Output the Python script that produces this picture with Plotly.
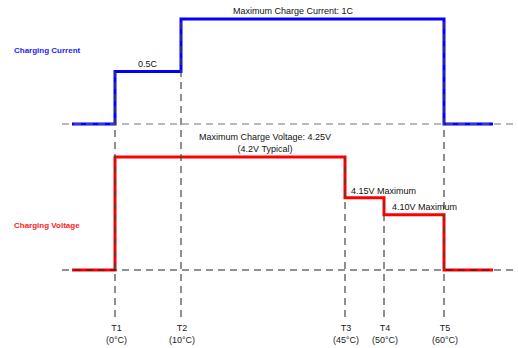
import plotly.graph_objects as go

# Schematic positions of the temperature thresholds along the x axis
t_labels = ["T1", "T2", "T3", "T4", "T5"]
t_temps = ["0°C", "10°C", "45°C", "50°C", "60°C"]
t_pos = [115, 181, 345, 384, 444]
x_start = 72
x_end = 493
guide_left = 62
guide_right = 518

# Charging current (in C) between thresholds: before T1, T1-T2, T2-T5, after T5
current_x = [x_start, t_pos[0], t_pos[1], t_pos[4], x_end]
current_c = [0, 0.5, 1.0, 0, 0]

# Charging voltage: nominal values and schematic drawing levels
voltage_x = [x_start, t_pos[0], t_pos[2], t_pos[3], t_pos[4], x_end]
voltage_v = [0, 4.25, 4.15, 4.10, 0, 0]
voltage_level = [0, 1.0, 0.64, 0.49, 0, 0]

# vertical guide tops: in axis of current (y) or voltage (y2)
guide_top_axis = ["y", "y", "y2", "y2", "y"]
guide_top_val = [0.5, 1.0, 1.0, 0.64, 1.0]

W, H = 518, 348
FONT = "Liberation Sans, Arial, sans-serif"

# axis ranges so that current 0 -> px 124, 1 -> px 19; voltage level 0 -> px 270, 1 -> px 157
c0, c1 = 124, 19
v0, v1 = 270, 157
cur_range = [(c0 - H) / (c0 - c1), c0 / (c0 - c1)]
vol_range = [(v0 - H) / (v0 - v1), v0 / (v0 - v1)]
bottom_paper = 1 - 317 / H

fig = go.Figure()

# step lines
fig.add_trace(go.Scatter(x=current_x, y=current_c, mode="lines", line=dict(color="#0000FF", width=3, shape="hv"),
                         yaxis="y", hoverinfo="skip", showlegend=False))
fig.add_trace(go.Scatter(x=voltage_x, y=voltage_level, mode="lines", line=dict(color="#FF0000", width=3, shape="hv"),
                         yaxis="y2", hoverinfo="skip", showlegend=False,
                         customdata=voltage_v))

# horizontal dashed baselines
fig.add_trace(go.Scatter(x=[guide_left, guide_right], y=[0, 0], mode="lines",
                         line=dict(color="#777777", width=1.2, dash="7px,5px"), yaxis="y",
                         hoverinfo="skip", showlegend=False))
fig.add_trace(go.Scatter(x=[guide_left, guide_right], y=[0, 0], mode="lines",
                         line=dict(color="#222222", width=1.2, dash="7px,5px"), yaxis="y2",
                         hoverinfo="skip", showlegend=False))

shapes = []
for xp, ax, val in zip(t_pos, guide_top_axis, guide_top_val):
    if ax == "y":
        top_px = c0 - val * (c0 - c1)
    else:
        top_px = v0 - val * (v0 - v1)
    top_paper = 1 - top_px / H
    shapes.append(dict(type="line", xref="x", yref="paper", x0=xp, x1=xp, y0=bottom_paper, y1=top_paper,
                       line=dict(color="#444444", width=1.2, dash="7px,5px"), layer="above"))

annotations = []
for xp, lab, tmp in zip(t_pos, t_labels, t_temps):
    annotations.append(dict(x=xp + 1, y=1 - 334 / H, xref="x", yref="paper", text=f"{lab}<br>({tmp})",
                            showarrow=False, font=dict(family=FONT, size=9, color="#222222"),
                            xanchor="center", yanchor="middle"))

txt = dict(showarrow=False, font=dict(family=FONT, size=9, color="#111111"), xanchor="center", yanchor="bottom")
annotations += [
    dict(x=293, y=current_c[2], yref="y", xref="x", text="Maximum Charge Current: 1C", yshift=1, **txt),
    dict(x=(t_pos[0] + t_pos[1]) / 2, y=current_c[1], yref="y", xref="x", text="0.5C", yshift=1, **txt),
    dict(x=265, y=voltage_level[1], yref="y2", xref="x",
         text="Maximum Charge Voltage: 4.25V<br>(4.2V Typical)", yshift=1, **txt),
    dict(x=383, y=voltage_level[2], yref="y2", xref="x", text="4.15V Maximum", yshift=0, **txt),
    dict(x=424, y=voltage_level[3], yref="y2", xref="x", text="4.10V Maximum", yshift=1, **txt),
    dict(x=12, y=1 - 50 / H, xref="x", yref="paper", text="<b>Charging Current</b>", showarrow=False,
         xanchor="left", yanchor="middle", font=dict(family=FONT, size=8, color="#2222FF")),
    dict(x=12, y=1 - 225 / H, xref="x", yref="paper", text="<b>Charging Voltage</b>", showarrow=False,
         xanchor="left", yanchor="middle", font=dict(family=FONT, size=8, color="#FF2222")),
]

fig.update_layout(
    width=W, height=H,
    margin=dict(l=0, r=0, t=0, b=0),
    paper_bgcolor="white", plot_bgcolor="white",
    xaxis=dict(range=[0, W], visible=False, fixedrange=True),
    yaxis=dict(range=cur_range, visible=False, fixedrange=True),
    yaxis2=dict(range=vol_range, visible=False, overlaying="y", fixedrange=True),
    shapes=shapes,
    annotations=annotations,
    showlegend=False,
)

fig.write_html("out.html", config={"displayModeBar": False})
